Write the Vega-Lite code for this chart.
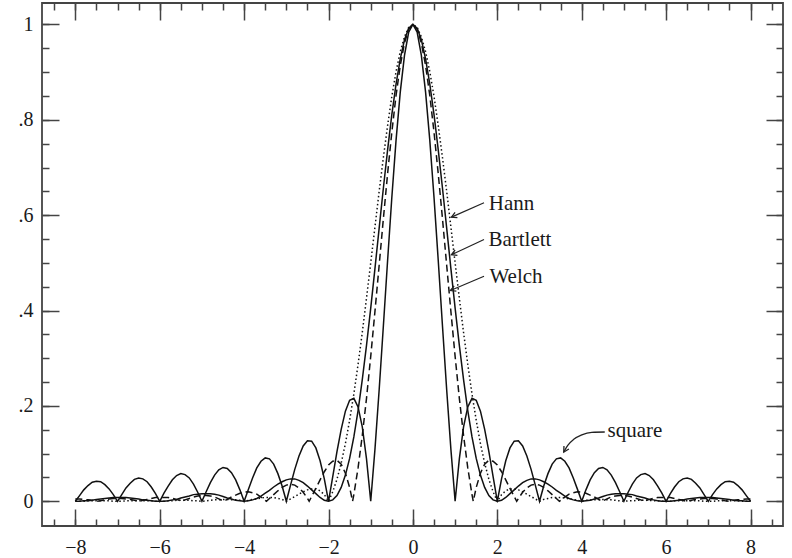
{
  "$schema": "https://vega.github.io/schema/vega-lite/v6.json",
  "width": 741,
  "height": 523,
  "autosize": {"type": "none"},
  "padding": {"left": 42, "top": 3, "right": 9, "bottom": 32},
  "background": "white",
  "config": {
    "view": {"stroke": "#444", "strokeWidth": 1.8},
    "axis": {"domain": false, "grid": false, "tickColor": "#444", "tickWidth": 1.5, "labelFont": "Liberation Serif", "labelFontSize": 20, "labelColor": "#1a1a1a", "labelFlush": false, "labelOverlap": false, "labelBound": false}
  },
  "datasets": {
    "win": [
      {"s":-8,"q":0,"b":0,"w":0.005,"h":0},
      {"s":-7.9,"q":0.012,"b":0,"w":0.005,"h":0},
      {"s":-7.8,"q":0.024,"b":0.001,"w":0.004,"h":0},
      {"s":-7.7,"q":0.033,"b":0.001,"w":0.003,"h":0.001},
      {"s":-7.6,"q":0.04,"b":0.002,"w":0.002,"h":0.001},
      {"s":-7.5,"q":0.042,"b":0.004,"w":0,"h":0.001},
      {"s":-7.487,"w":0},
      {"s":-7.4,"q":0.041,"b":0.005,"w":0.001,"h":0.001},
      {"s":-7.3,"q":0.035,"b":0.006,"w":0.003,"h":0.001},
      {"s":-7.2,"q":0.026,"b":0.007,"w":0.005,"h":0.001},
      {"s":-7.1,"q":0.014,"b":0.008,"w":0.006,"h":0},
      {"s":-7,"q":0,"b":0.008,"w":0.006,"h":0},
      {"s":-6.9,"q":0.014,"b":0.008,"w":0.006,"h":0},
      {"s":-6.8,"q":0.028,"b":0.008,"w":0.005,"h":0.001},
      {"s":-6.7,"q":0.038,"b":0.007,"w":0.004,"h":0.001},
      {"s":-6.6,"q":0.046,"b":0.006,"w":0.002,"h":0.001},
      {"s":-6.5,"q":0.049,"b":0.005,"w":0,"h":0.001},
      {"s":-6.484,"w":0},
      {"s":-6.4,"q":0.047,"b":0.003,"w":0.002,"h":0.001},
      {"s":-6.3,"q":0.041,"b":0.002,"w":0.004,"h":0.001},
      {"s":-6.2,"q":0.03,"b":0.001,"w":0.006,"h":0.001},
      {"s":-6.1,"q":0.016,"b":0,"w":0.008,"h":0},
      {"s":-6,"q":0,"b":0,"w":0.008,"h":0},
      {"s":-5.9,"q":0.017,"b":0,"w":0.008,"h":0},
      {"s":-5.8,"q":0.032,"b":0.001,"w":0.008,"h":0.001},
      {"s":-5.7,"q":0.045,"b":0.003,"w":0.006,"h":0.001},
      {"s":-5.6,"q":0.054,"b":0.004,"w":0.004,"h":0.002},
      {"s":-5.5,"q":0.058,"b":0.007,"w":0.001,"h":0.002},
      {"s":-5.482,"w":0},
      {"s":-5.4,"q":0.056,"b":0.009,"w":0.003,"h":0.002},
      {"s":-5.3,"q":0.049,"b":0.011,"w":0.006,"h":0.002},
      {"s":-5.2,"q":0.036,"b":0.014,"w":0.009,"h":0.001},
      {"s":-5.1,"q":0.019,"b":0.015,"w":0.011,"h":0.001},
      {"s":-5,"q":0,"b":0.016,"w":0.012,"h":0},
      {"s":-4.9,"q":0.02,"b":0.016,"w":0.012,"h":0.001},
      {"s":-4.8,"q":0.039,"b":0.016,"w":0.011,"h":0.002},
      {"s":-4.7,"q":0.055,"b":0.015,"w":0.009,"h":0.003},
      {"s":-4.6,"q":0.066,"b":0.013,"w":0.005,"h":0.003},
      {"s":-4.5,"q":0.071,"b":0.01,"w":0.001,"h":0.004},
      {"s":-4.477,"w":0},
      {"s":-4.4,"q":0.069,"b":0.007,"w":0.004,"h":0.004},
      {"s":-4.3,"q":0.06,"b":0.005,"w":0.009,"h":0.003},
      {"s":-4.2,"q":0.045,"b":0.002,"w":0.013,"h":0.003},
      {"s":-4.1,"q":0.024,"b":0.001,"w":0.017,"h":0.002},
      {"s":-4,"q":0,"b":0,"w":0.019,"h":0},
      {"s":-3.9,"q":0.025,"b":0.001,"w":0.02,"h":0.002},
      {"s":-3.8,"q":0.049,"b":0.003,"w":0.018,"h":0.004},
      {"s":-3.7,"q":0.07,"b":0.006,"w":0.015,"h":0.005},
      {"s":-3.6,"q":0.084,"b":0.011,"w":0.009,"h":0.007},
      {"s":-3.5,"q":0.091,"b":0.017,"w":0.002,"h":0.008},
      {"s":-3.471,"w":0},
      {"s":-3.4,"q":0.089,"b":0.023,"w":0.006,"h":0.008},
      {"s":-3.3,"q":0.078,"b":0.03,"w":0.014,"h":0.008},
      {"s":-3.2,"q":0.058,"b":0.036,"w":0.022,"h":0.006},
      {"s":-3.1,"q":0.032,"b":0.041,"w":0.029,"h":0.004},
      {"s":-3,"q":0,"b":0.045,"w":0.034,"h":0},
      {"s":-2.9,"q":0.034,"b":0.047,"w":0.036,"h":0.005},
      {"s":-2.8,"q":0.067,"b":0.047,"w":0.034,"h":0.01},
      {"s":-2.7,"q":0.095,"b":0.044,"w":0.028,"h":0.015},
      {"s":-2.6,"q":0.116,"b":0.039,"w":0.019,"h":0.02},
      {"s":-2.5,"q":0.127,"b":0.032,"w":0.006,"h":0.024},
      {"s":-2.459,"w":0},
      {"s":-2.4,"q":0.126,"b":0.024,"w":0.01,"h":0.026},
      {"s":-2.3,"q":0.112,"b":0.016,"w":0.027,"h":0.026},
      {"s":-2.2,"q":0.085,"b":0.008,"w":0.045,"h":0.022},
      {"s":-2.1,"q":0.047,"b":0.002,"w":0.062,"h":0.014},
      {"s":-2,"q":0,"b":0,"w":0.076,"h":0},
      {"s":-1.9,"q":0.052,"b":0.003,"w":0.084,"h":0.02},
      {"s":-1.8,"q":0.104,"b":0.012,"w":0.086,"h":0.046},
      {"s":-1.7,"q":0.151,"b":0.029,"w":0.078,"h":0.08},
      {"s":-1.6,"q":0.189,"b":0.055,"w":0.059,"h":0.121},
      {"s":-1.5,"q":0.212,"b":0.09,"w":0.029,"h":0.17},
      {"s":-1.43,"w":0},
      {"s":-1.4,"q":0.216,"b":0.135,"w":0.014,"h":0.225},
      {"s":-1.3,"q":0.198,"b":0.19,"w":0.07,"h":0.287},
      {"s":-1.2,"q":0.156,"b":0.255,"w":0.138,"h":0.354},
      {"s":-1.1,"q":0.089,"b":0.327,"w":0.216,"h":0.426},
      {"s":-1,"q":0,"b":0.405,"w":0.304,"h":0.5},
      {"s":-0.9,"q":0.109,"b":0.488,"w":0.398,"h":0.575},
      {"s":-0.8,"q":0.234,"b":0.573,"w":0.495,"h":0.65},
      {"s":-0.7,"q":0.368,"b":0.657,"w":0.593,"h":0.721},
      {"s":-0.6,"q":0.505,"b":0.737,"w":0.687,"h":0.788},
      {"s":-0.5,"q":0.637,"b":0.811,"w":0.774,"h":0.849},
      {"s":-0.4,"q":0.757,"b":0.875,"w":0.851,"h":0.901},
      {"s":-0.3,"q":0.858,"b":0.928,"w":0.914,"h":0.943},
      {"s":-0.2,"q":0.935,"b":0.968,"w":0.961,"h":0.974},
      {"s":-0.1,"q":0.984,"b":0.992,"w":0.99,"h":0.994},
      {"s":0,"q":1,"b":1,"w":1,"h":1},
      {"s":0.1,"q":0.984,"b":0.992,"w":0.99,"h":0.994},
      {"s":0.2,"q":0.935,"b":0.968,"w":0.961,"h":0.974},
      {"s":0.3,"q":0.858,"b":0.928,"w":0.914,"h":0.943},
      {"s":0.4,"q":0.757,"b":0.875,"w":0.851,"h":0.901},
      {"s":0.5,"q":0.637,"b":0.811,"w":0.774,"h":0.849},
      {"s":0.6,"q":0.505,"b":0.737,"w":0.687,"h":0.788},
      {"s":0.7,"q":0.368,"b":0.657,"w":0.593,"h":0.721},
      {"s":0.8,"q":0.234,"b":0.573,"w":0.495,"h":0.65},
      {"s":0.9,"q":0.109,"b":0.488,"w":0.398,"h":0.575},
      {"s":1,"q":0,"b":0.405,"w":0.304,"h":0.5},
      {"s":1.1,"q":0.089,"b":0.327,"w":0.216,"h":0.426},
      {"s":1.2,"q":0.156,"b":0.255,"w":0.138,"h":0.354},
      {"s":1.3,"q":0.198,"b":0.19,"w":0.07,"h":0.287},
      {"s":1.4,"q":0.216,"b":0.135,"w":0.014,"h":0.225},
      {"s":1.43,"w":0},
      {"s":1.5,"q":0.212,"b":0.09,"w":0.029,"h":0.17},
      {"s":1.6,"q":0.189,"b":0.055,"w":0.059,"h":0.121},
      {"s":1.7,"q":0.151,"b":0.029,"w":0.078,"h":0.08},
      {"s":1.8,"q":0.104,"b":0.012,"w":0.086,"h":0.046},
      {"s":1.9,"q":0.052,"b":0.003,"w":0.084,"h":0.02},
      {"s":2,"q":0,"b":0,"w":0.076,"h":0},
      {"s":2.1,"q":0.047,"b":0.002,"w":0.062,"h":0.014},
      {"s":2.2,"q":0.085,"b":0.008,"w":0.045,"h":0.022},
      {"s":2.3,"q":0.112,"b":0.016,"w":0.027,"h":0.026},
      {"s":2.4,"q":0.126,"b":0.024,"w":0.01,"h":0.026},
      {"s":2.459,"w":0},
      {"s":2.5,"q":0.127,"b":0.032,"w":0.006,"h":0.024},
      {"s":2.6,"q":0.116,"b":0.039,"w":0.019,"h":0.02},
      {"s":2.7,"q":0.095,"b":0.044,"w":0.028,"h":0.015},
      {"s":2.8,"q":0.067,"b":0.047,"w":0.034,"h":0.01},
      {"s":2.9,"q":0.034,"b":0.047,"w":0.036,"h":0.005},
      {"s":3,"q":0,"b":0.045,"w":0.034,"h":0},
      {"s":3.1,"q":0.032,"b":0.041,"w":0.029,"h":0.004},
      {"s":3.2,"q":0.058,"b":0.036,"w":0.022,"h":0.006},
      {"s":3.3,"q":0.078,"b":0.03,"w":0.014,"h":0.008},
      {"s":3.4,"q":0.089,"b":0.023,"w":0.006,"h":0.008},
      {"s":3.471,"w":0},
      {"s":3.5,"q":0.091,"b":0.017,"w":0.002,"h":0.008},
      {"s":3.6,"q":0.084,"b":0.011,"w":0.009,"h":0.007},
      {"s":3.7,"q":0.07,"b":0.006,"w":0.015,"h":0.005},
      {"s":3.8,"q":0.049,"b":0.003,"w":0.018,"h":0.004},
      {"s":3.9,"q":0.025,"b":0.001,"w":0.02,"h":0.002},
      {"s":4,"q":0,"b":0,"w":0.019,"h":0},
      {"s":4.1,"q":0.024,"b":0.001,"w":0.017,"h":0.002},
      {"s":4.2,"q":0.045,"b":0.002,"w":0.013,"h":0.003},
      {"s":4.3,"q":0.06,"b":0.005,"w":0.009,"h":0.003},
      {"s":4.4,"q":0.069,"b":0.007,"w":0.004,"h":0.004},
      {"s":4.477,"w":0},
      {"s":4.5,"q":0.071,"b":0.01,"w":0.001,"h":0.004},
      {"s":4.6,"q":0.066,"b":0.013,"w":0.005,"h":0.003},
      {"s":4.7,"q":0.055,"b":0.015,"w":0.009,"h":0.003},
      {"s":4.8,"q":0.039,"b":0.016,"w":0.011,"h":0.002},
      {"s":4.9,"q":0.02,"b":0.016,"w":0.012,"h":0.001},
      {"s":5,"q":0,"b":0.016,"w":0.012,"h":0},
      {"s":5.1,"q":0.019,"b":0.015,"w":0.011,"h":0.001},
      {"s":5.2,"q":0.036,"b":0.014,"w":0.009,"h":0.001},
      {"s":5.3,"q":0.049,"b":0.011,"w":0.006,"h":0.002},
      {"s":5.4,"q":0.056,"b":0.009,"w":0.003,"h":0.002},
      {"s":5.482,"w":0},
      {"s":5.5,"q":0.058,"b":0.007,"w":0.001,"h":0.002},
      {"s":5.6,"q":0.054,"b":0.004,"w":0.004,"h":0.002},
      {"s":5.7,"q":0.045,"b":0.003,"w":0.006,"h":0.001},
      {"s":5.8,"q":0.032,"b":0.001,"w":0.008,"h":0.001},
      {"s":5.9,"q":0.017,"b":0,"w":0.008,"h":0},
      {"s":6,"q":0,"b":0,"w":0.008,"h":0},
      {"s":6.1,"q":0.016,"b":0,"w":0.008,"h":0},
      {"s":6.2,"q":0.03,"b":0.001,"w":0.006,"h":0.001},
      {"s":6.3,"q":0.041,"b":0.002,"w":0.004,"h":0.001},
      {"s":6.4,"q":0.047,"b":0.003,"w":0.002,"h":0.001},
      {"s":6.484,"w":0},
      {"s":6.5,"q":0.049,"b":0.005,"w":0,"h":0.001},
      {"s":6.6,"q":0.046,"b":0.006,"w":0.002,"h":0.001},
      {"s":6.7,"q":0.038,"b":0.007,"w":0.004,"h":0.001},
      {"s":6.8,"q":0.028,"b":0.008,"w":0.005,"h":0.001},
      {"s":6.9,"q":0.014,"b":0.008,"w":0.006,"h":0},
      {"s":7,"q":0,"b":0.008,"w":0.006,"h":0},
      {"s":7.1,"q":0.014,"b":0.008,"w":0.006,"h":0},
      {"s":7.2,"q":0.026,"b":0.007,"w":0.005,"h":0.001},
      {"s":7.3,"q":0.035,"b":0.006,"w":0.003,"h":0.001},
      {"s":7.4,"q":0.041,"b":0.005,"w":0.001,"h":0.001},
      {"s":7.487,"w":0},
      {"s":7.5,"q":0.042,"b":0.004,"w":0,"h":0.001},
      {"s":7.6,"q":0.04,"b":0.002,"w":0.002,"h":0.001},
      {"s":7.7,"q":0.033,"b":0.001,"w":0.003,"h":0.001},
      {"s":7.8,"q":0.024,"b":0.001,"w":0.004,"h":0},
      {"s":7.9,"q":0.012,"b":0,"w":0.005,"h":0},
      {"s":8,"q":0,"b":0,"w":0.005,"h":0}
    ],
    "labels": [
      {"t":"Hann","x":1.797,"y":0.61},
      {"t":"Bartlett","x":1.79,"y":0.535},
      {"t":"Welch","x":1.813,"y":0.458},
      {"t":"square","x":4.61,"y":0.1348}
    ],
    "arrows": [
      {"id":"h","x":1.685,"y":0.626},
      {"id":"h","x":0.913,"y":0.596},
      {"id":"b","x":1.685,"y":0.549},
      {"id":"b","x":0.913,"y":0.517},
      {"id":"w","x":1.685,"y":0.472},
      {"id":"w","x":0.889,"y":0.442}
    ],
    "curve": [
      {"x":4.546,"y":0.1453},
      {"x":4.238,"y":0.1447},
      {"x":4.001,"y":0.1394},
      {"x":3.811,"y":0.13},
      {"x":3.669,"y":0.1174},
      {"x":3.574,"y":0.1034}
    ],
    "heads": [
      {"x":0.913,"y":0.596,"a":156},
      {"x":0.913,"y":0.517,"a":156},
      {"x":0.889,"y":0.442,"a":157},
      {"x":3.574,"y":0.1034,"a":121}
    ]
  },
  "resolve": {"axis": {"x": "independent", "y": "independent"}},
  "layer": [
    {
      "data": {"name": "win"},
      "transform": [{"filter": {"field": "q", "valid": true}}],
      "mark": {"type": "line", "stroke": "#111", "strokeWidth": 1.5},
      "encoding": {
        "x": {"field": "s", "type": "quantitative", "scale": {"domain": [-8.79, 8.77], "nice": false, "zero": false},
          "axis": {"orient": "bottom", "title": null, "values": [-8,-6,-4,-2,0,2,4,6,8], "tickSize": -17, "labelPadding": 28, "format": "d"}},
        "y": {"field": "q", "type": "quantitative", "scale": {"domain": [-0.0518, 1.045], "nice": false, "zero": false},
          "axis": {"orient": "left", "title": null, "values": [0,0.2,0.4,0.6,0.8,1], "tickSize": -17, "labelPadding": 26,
            "labelExpr": "datum.value == 0 ? '0' : datum.value == 1 ? '1' : '.' + round(datum.value * 10)"}}
      }
    },
    {
      "data": {"name": "win"},
      "transform": [{"filter": {"field": "b", "valid": true}}],
      "mark": {"type": "line", "stroke": "#111", "strokeWidth": 1.5},
      "encoding": {
        "x": {"field": "s", "type": "quantitative", "scale": {"domain": [-8.79, 8.77], "nice": false, "zero": false},
          "axis": {"orient": "bottom", "title": null, "labels": false, "tickSize": -7,
            "values": [-8.5,-8,-7.5,-7,-6.5,-6,-5.5,-5,-4.5,-4,-3.5,-3,-2.5,-2,-1.5,-1,-0.5,0,0.5,1,1.5,2,2.5,3,3.5,4,4.5,5,5.5,6,6.5,7,7.5,8,8.5]}},
        "y": {"field": "b", "type": "quantitative", "scale": {"domain": [-0.0518, 1.045], "nice": false, "zero": false},
          "axis": {"orient": "left", "title": null, "labels": false, "tickSize": -7,
            "values": [0,0.05,0.1,0.15,0.2,0.25,0.3,0.35,0.4,0.45,0.5,0.55,0.6,0.65,0.7,0.75,0.8,0.85,0.9,0.95,1]}}
      }
    },
    {
      "data": {"name": "win"},
      "transform": [{"filter": {"field": "w", "valid": true}}],
      "mark": {"type": "line", "stroke": "#111", "strokeWidth": 1.5, "strokeDash": [7, 4]},
      "encoding": {
        "x": {"field": "s", "type": "quantitative", "scale": {"domain": [-8.79, 8.77], "nice": false, "zero": false},
          "axis": {"orient": "top", "title": null, "labels": false, "values": [-8,-6,-4,-2,0,2,4,6,8], "tickSize": -17}},
        "y": {"field": "w", "type": "quantitative", "scale": {"domain": [-0.0518, 1.045], "nice": false, "zero": false},
          "axis": {"orient": "right", "title": null, "labels": false, "values": [0,0.2,0.4,0.6,0.8,1], "tickSize": -17}}
      }
    },
    {
      "data": {"name": "win"},
      "transform": [{"filter": {"field": "h", "valid": true}}],
      "mark": {"type": "line", "stroke": "#111", "strokeWidth": 1.5, "strokeDash": [1.5, 2.5]},
      "encoding": {
        "x": {"field": "s", "type": "quantitative", "scale": {"domain": [-8.79, 8.77], "nice": false, "zero": false},
          "axis": {"orient": "top", "title": null, "labels": false, "tickSize": -7,
            "values": [-8.5,-8,-7.5,-7,-6.5,-6,-5.5,-5,-4.5,-4,-3.5,-3,-2.5,-2,-1.5,-1,-0.5,0,0.5,1,1.5,2,2.5,3,3.5,4,4.5,5,5.5,6,6.5,7,7.5,8,8.5]}},
        "y": {"field": "h", "type": "quantitative", "scale": {"domain": [-0.0518, 1.045], "nice": false, "zero": false},
          "axis": {"orient": "right", "title": null, "labels": false, "tickSize": -7,
            "values": [0,0.05,0.1,0.15,0.2,0.25,0.3,0.35,0.4,0.45,0.5,0.55,0.6,0.65,0.7,0.75,0.8,0.85,0.9,0.95,1]}}
      }
    },
    {
      "data": {"name": "arrows"},
      "mark": {"type": "line", "stroke": "#222", "strokeWidth": 1.2},
      "encoding": {
        "x": {"field": "x", "type": "quantitative", "scale": {"domain": [-8.79, 8.77], "nice": false, "zero": false}, "axis": null},
        "y": {"field": "y", "type": "quantitative", "scale": {"domain": [-0.0518, 1.045], "nice": false, "zero": false}, "axis": null},
        "detail": {"field": "id"}
      }
    },
    {
      "data": {"name": "curve"},
      "mark": {"type": "line", "stroke": "#222", "strokeWidth": 1.3, "interpolate": "monotone"},
      "encoding": {
        "x": {"field": "x", "type": "quantitative", "scale": {"domain": [-8.79, 8.77], "nice": false, "zero": false}, "axis": null},
        "y": {"field": "y", "type": "quantitative", "scale": {"domain": [-0.0518, 1.045], "nice": false, "zero": false}, "axis": null}
      }
    },
    {
      "data": {"name": "heads"},
      "mark": {"type": "point", "shape": "M -1 -0.55 L 0 0 L -1 0.55", "filled": false, "stroke": "#222", "strokeWidth": 1.3, "size": 110, "opacity": 1},
      "encoding": {
        "x": {"field": "x", "type": "quantitative", "scale": {"domain": [-8.79, 8.77], "nice": false, "zero": false}, "axis": null},
        "y": {"field": "y", "type": "quantitative", "scale": {"domain": [-0.0518, 1.045], "nice": false, "zero": false}, "axis": null},
        "angle": {"field": "a", "type": "quantitative", "scale": null}
      }
    },
    {
      "data": {"name": "labels"},
      "mark": {"type": "text", "align": "left", "baseline": "alphabetic", "font": "Liberation Serif", "fontSize": 21, "color": "#1a1a1a"},
      "encoding": {
        "x": {"field": "x", "type": "quantitative", "scale": {"domain": [-8.79, 8.77], "nice": false, "zero": false}, "axis": null},
        "y": {"field": "y", "type": "quantitative", "scale": {"domain": [-0.0518, 1.045], "nice": false, "zero": false}, "axis": null},
        "text": {"field": "t"}
      }
    }
  ]
}
